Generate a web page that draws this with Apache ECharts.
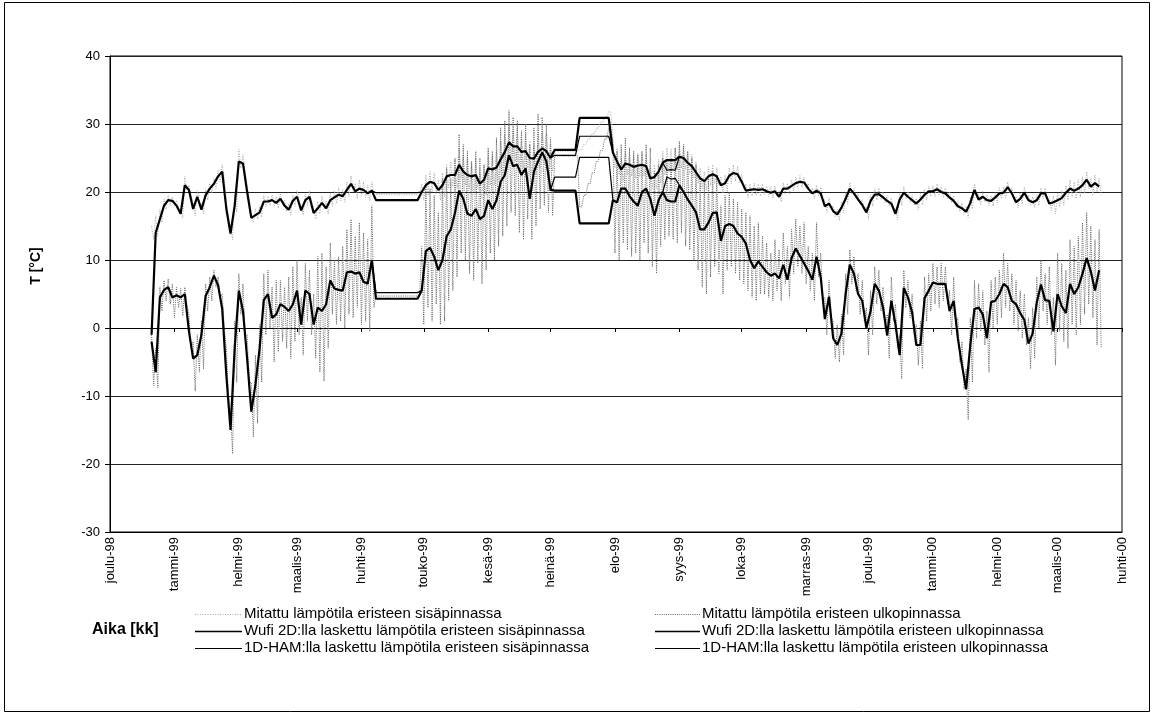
<!DOCTYPE html>
<html>
<head>
<meta charset="utf-8">
<script src="https://cdn.jsdelivr.net/npm/echarts@6/dist/echarts.min.js"></script>
<style>
html,body{margin:0;padding:0;background:#fff;}
#chart{width:1154px;height:715px;}
</style>
</head>
<body>
<div id="chart"></div>
<script>
// ---------- DATA ----------
// x axis: days after 1 Dec 1998; month starts and their labels
const monthDays = [0,31,62,90,121,151,182,212,243,274,304,335,365,396,427,456,487];
const monthLabels = ['joulu-98','tammi-99','helmi-99','maalis-99','huhti-99','touko-99','kesä-99','heinä-99','elo-99','syys-99','loka-99','marras-99','joulu-99','tammi-00','helmi-00','maalis-00','huhti-00'];
// series sampled every 2 days starting 21 Dec 1998 (day 20)
const START_DAY = 20;
const STEP = 2;

const wufiIn = [
-1,14.0,16.0,18.0,18.8,18.7,18.0,16.8,21.0,20.3,
17.5,19.3,17.4,19.5,20.5,21.2,22.3,23.0,17.5,13.9,
18.0,24.5,24.2,20.0,16.2,16.6,17.0,18.6,18.6,18.8,
18.4,19.0,18.0,17.4,18.7,19.3,17.3,18.8,19.3,16.9,
17.6,18.4,17.6,18.8,19.2,19.6,19.4,20.3,21.2,20.1,
20.5,20.3,19.8,20.2,18.8,18.8,18.8,18.8,18.8,18.8,
18.8,18.8,18.8,18.8,18.8,20.0,21.0,21.5,21.3,20.3,
21.0,22.3,22.5,22.5,24.0,23.0,22.5,22.3,22.5,21.2,
21.8,23.5,23.3,23.6,24.8,25.9,27.3,26.7,26.7,25.9,
26.0,25.0,24.9,25.9,26.4,26.0,25.0,26.2,26.2,26.2,
26.2,26.2,26.2,30.9,30.9,30.9,30.9,30.9,30.9,30.9,
30.9,25.8,24.5,23.3,24.2,24.0,23.7,23.9,24.0,23.8,
22.0,22.2,23.0,24.3,24.7,24.7,24.7,25.2,25.0,24.3,
23.8,22.9,22.0,21.6,22.3,22.6,22.3,21.0,21.3,22.4,
22.8,22.6,21.5,20.2,20.3,20.4,20.3,20.4,20.1,19.9,
20.1,19.3,20.5,20.5,20.9,21.3,21.5,21.4,20.5,19.8,
20.2,19.8,17.9,18.3,17.2,16.7,17.7,19.0,20.5,19.8,
18.9,18.1,17.0,18.7,19.6,19.7,19.2,18.7,18.3,16.8,
18.9,19.9,19.3,18.8,18.3,18.9,19.6,20.1,20.1,20.4,
20.0,19.8,19.2,18.7,17.9,17.6,17.1,18.4,20.3,18.9,
19.3,18.8,18.7,19.2,19.8,19.9,20.7,19.8,18.5,19.0,
19.9,18.8,18.5,18.8,19.8,19.8,18.3,18.5,18.8,19.1,
19.9,20.5,20.2,20.5,21.0,21.8,20.8,21.3,20.8];

const wufiOut = [
-2.0,-6.5,4.5,5.6,6.0,4.5,4.8,4.5,5.0,-0.5,
-4.5,-4.0,-1.0,4.7,6.0,7.7,6.3,2.8,-7.0,-15.0,
-3.0,5.5,2.5,-4.5,-12.3,-8.3,-3.0,4.1,5.0,1.5,
2.0,3.5,3.1,2.5,3.5,5.5,0.5,5.5,5.0,0.5,
3.0,2.5,3.5,7.0,5.8,5.6,5.5,8.2,8.3,8.0,
8.2,6.8,6.5,10.0,4.3,4.3,4.3,4.3,4.3,4.3,
4.3,4.3,4.3,4.3,4.3,5.5,11.3,11.8,10.5,8.5,
10.0,13.5,14.5,16.9,20.2,19.0,16.8,16.5,17.5,16.0,
16.5,18.8,17.5,18.8,21.5,22.5,25.4,23.8,24.0,22.5,
23.5,19.0,23.0,24.5,25.8,24.5,20.3,20.2,20.2,20.2,
20.2,20.2,20.2,15.4,15.4,15.4,15.4,15.4,15.4,15.4,
15.4,18.8,18.5,20.5,20.5,19.4,18.6,18.0,20.0,20.5,
19.0,16.5,18.8,20.0,18.8,18.6,18.6,21.0,20.0,18.9,
18.0,17.0,14.5,14.5,15.5,16.9,17.0,12.8,15.0,15.3,
15.0,13.9,13.4,12.4,10.0,8.8,9.8,9.0,8.2,7.7,
8.0,7.3,9.3,7.1,10.3,11.7,10.6,9.5,8.4,7.1,
10.5,7.5,1.3,4.6,-1.5,-2.5,-0.8,5.0,9.3,8.0,
5.0,4.0,0.0,2.5,6.5,5.5,3.0,-1.1,4.0,0.5,
-4.0,5.9,4.5,2.3,-2.5,-2.5,4.4,5.5,6.7,6.5,
6.5,6.5,2.5,4.0,-1.5,-5.5,-9.0,-2.5,2.8,3.0,
2.0,-1.5,3.8,4.0,5.0,6.5,6.0,4.0,3.5,2.2,
1.2,-2.3,-0.8,3.8,6.4,4.1,4.0,-0.5,5.0,3.2,
2.2,6.5,5.0,6.0,8.0,10.3,8.3,5.5,8.5];

// 1D-HAM results: drawn where they separate from the Wufi curves (start index, values)
const hamStart1 = 53;
const hamIn1  = [20.2,19.9,19.9,19.9,19.9,19.9,19.9,19.9,19.9,19.9,19.9,19.9,20.0];
const hamOut1 = [10.0,5.2,5.2,5.2,5.2,5.2,5.2,5.2,5.2,5.2,5.2,5.2,5.5];
const hamStart2 = 96;
const hamIn2  = [25.0,25.4,25.4,25.4,25.4,25.4,25.4,28.2,28.2,28.2,28.2,28.2,28.2,28.2,28.2,25.8];
const hamOut2 = [20.3,22.2,22.2,22.2,22.2,22.2,22.2,25.1,25.1,25.1,25.1,25.1,25.1,25.1,25.1,18.8];
const hamStart3 = 123;
const hamIn3  = [24.3,23.2,23.3,23.2,25.2];
const hamOut3 = [20.0,22.2,21.9,22.0,21.0];

// measured: daily high (first day) / low (second day) of each 2-day step
const measInHi = [
15.0,16.5,17.5,19.0,19.5,19.3,18.8,17.5,22.3,21.0,
18.5,20.2,18.3,20.5,21.3,22.0,23.2,24.0,18.5,14.8,
19.5,26.3,25.5,21.0,17.0,17.5,18.0,19.5,19.4,19.6,
19.3,19.8,18.8,18.3,19.6,20.2,18.2,19.7,20.2,17.8,
18.6,19.4,18.6,19.8,20.2,20.6,20.4,21.5,22.4,21.3,
21.8,21.5,21.0,21.5,19.6,19.6,19.6,19.6,19.6,19.6,
19.6,19.6,19.6,19.6,19.6,21.2,22.5,23.0,22.8,21.8,
22.8,24.0,24.5,24.8,26.5,25.5,25.0,24.5,25.0,23.5,
24.0,26.0,25.5,26.0,27.5,28.5,30.0,29.0,29.5,28.0,
28.5,27.5,27.0,28.5,29.0,28.5,27.0,26.0,26.0,26.0,
26.0,26.0,26.0,26.2,27.0,27.8,28.6,29.4,30.2,31.0,
31.8,28.0,26.5,25.0,26.0,25.8,25.5,25.7,25.8,25.5,
23.8,24.0,24.8,26.0,26.5,26.3,26.5,27.0,26.8,26.0,
25.5,24.5,23.5,23.0,23.7,24.0,23.6,22.3,22.5,23.6,
24.0,23.8,22.6,21.2,21.2,21.3,21.2,21.2,20.9,20.7,
20.9,20.1,21.4,21.3,21.8,22.2,22.4,22.2,21.3,20.6,
21.0,20.7,18.8,19.2,18.0,17.5,18.6,19.9,21.4,20.6,
19.7,18.9,17.8,19.6,20.5,20.6,20.0,19.5,19.1,17.6,
19.8,20.8,20.1,19.6,19.1,19.8,20.4,20.9,20.9,21.2,
20.8,20.6,20.0,19.5,18.7,18.4,17.9,19.3,21.2,19.7,
20.1,19.6,19.5,20.0,20.6,20.8,21.5,20.6,19.3,19.8,
20.7,19.6,19.3,19.6,20.6,20.6,19.2,19.4,19.8,20.2,
21.0,21.8,21.5,21.8,22.3,23.0,22.0,22.5,22.0];

const measInLo = [
13.0,13.5,15.5,17.5,18.0,18.0,17.3,16.2,20.3,19.5,
16.5,18.5,16.8,18.8,19.8,20.5,21.5,22.0,16.0,13.0,
17.0,23.5,23.0,19.0,15.5,16.0,16.3,17.8,18.0,18.0,
17.6,18.2,17.2,16.6,17.9,18.5,16.6,18.0,18.5,16.0,
16.8,17.5,16.7,17.9,18.3,18.7,18.5,19.3,20.1,19.0,
19.4,19.2,18.7,19.0,19.6,19.6,19.6,19.6,19.6,19.6,
19.6,19.6,19.6,19.6,19.6,18.8,19.5,20.0,19.8,18.8,
19.3,20.5,20.8,20.5,22.0,21.0,20.5,20.0,20.5,19.0,
19.5,21.0,21.0,21.5,22.5,23.5,25.0,24.5,24.0,23.5,
23.5,22.5,22.5,23.5,24.0,23.5,23.0,26.0,26.0,26.0,
26.0,26.0,26.0,26.2,27.0,27.8,28.6,29.4,30.2,31.0,
31.8,23.5,22.5,21.5,22.5,22.3,22.0,22.2,22.3,22.0,
20.5,20.5,21.3,22.5,23.0,23.0,23.2,23.5,23.3,22.6,
22.0,21.2,20.5,20.2,21.0,21.2,21.0,19.8,20.0,21.2,
21.6,21.4,20.4,19.2,19.4,19.5,19.4,19.6,19.3,19.1,
19.3,18.5,19.7,19.7,20.1,20.5,20.7,20.6,19.7,19.0,
19.4,19.0,17.0,17.5,16.4,15.8,16.9,18.2,19.7,19.0,
18.1,17.3,16.0,17.9,18.8,18.9,18.4,17.9,17.4,15.9,
18.0,19.0,18.5,18.0,17.4,18.1,18.8,19.3,19.3,19.6,
19.2,19.0,18.4,17.9,17.1,16.7,16.2,17.5,19.5,18.1,
18.5,18.0,17.9,18.4,19.0,19.1,19.9,19.0,17.7,18.2,
19.1,18.0,17.7,18.0,19.0,19.0,17.3,16.8,17.8,18.0,
18.8,19.3,19.0,19.2,19.8,20.5,19.6,20.0,19.5];

const measOutHi = [
-1.0,-3.0,6.0,7.0,7.2,6.5,6.0,5.8,6.0,2.0,
-2.0,-1.0,1.0,6.5,7.5,8.5,7.5,5.0,-3.0,-12.0,
1.0,8.0,6.5,-1.0,-8.0,-4.0,0.5,8.0,8.5,6.0,
7.0,7.0,6.0,7.5,9.0,10.0,4.5,9.5,8.5,5.0,
10.5,11.0,9.0,12.5,10.0,10.5,12.0,14.5,16.0,13.5,
15.5,14.0,13.0,18.0,4.7,4.7,4.7,4.7,4.7,4.7,
4.7,4.7,4.7,4.7,4.7,12.0,21.0,20.5,19.5,17.0,
22.0,23.5,22.0,25.0,28.5,27.0,26.0,24.5,26.0,25.0,
24.0,26.5,26.0,28.0,29.5,30.5,32.0,31.0,30.5,29.0,
30.0,27.0,29.5,31.5,31.0,30.0,28.0,25.3,25.3,25.3,
25.3,25.3,25.3,17.8,19.5,21.2,22.8,24.5,26.1,27.8,
29.4,27.5,26.0,27.0,28.0,26.5,26.0,25.5,26.0,27.0,
26.5,23.0,24.0,25.0,24.5,25.0,26.5,27.5,27.0,26.0,
25.0,24.0,22.0,21.5,22.0,23.0,22.5,18.0,19.5,20.0,
19.0,18.5,17.5,17.0,16.5,15.0,15.5,13.5,12.5,11.0,
13.0,11.5,14.0,12.0,14.5,16.0,15.0,15.5,12.0,11.0,
15.5,11.0,4.5,7.0,1.0,0.5,2.0,8.0,11.5,10.5,
8.0,7.0,3.0,5.5,9.0,8.5,6.0,2.0,7.5,3.5,
-1.0,8.5,7.0,5.0,0.5,1.0,7.5,8.0,9.5,9.0,
9.5,9.0,5.5,7.5,1.5,-2.0,-6.0,1.5,7.0,6.5,
5.5,2.5,7.0,7.5,8.5,11.0,9.5,8.0,7.0,5.5,
5.0,1.5,3.0,7.5,10.0,8.0,9.0,4.5,11.0,9.5,
8.5,13.0,12.0,13.5,15.5,17.0,15.0,13.0,14.5];

const measOutLo = [
-8.5,-8.8,2.5,4.0,3.5,1.5,3.0,1.8,3.5,-3.0,
-9.3,-6.5,-6.0,2.5,4.0,6.0,4.5,0.0,-10.0,-18.5,
-8.0,2.0,-1.0,-8.0,-16.0,-14.0,-8.0,-1.0,0.0,-5.0,
-3.5,-2.0,-3.0,-4.5,-2.0,-1.0,-4.0,1.0,-1.0,-4.5,
-6.5,-7.8,-3.0,2.0,0.5,1.0,0.0,2.0,1.5,3.0,
0.5,1.0,-0.5,3.0,4.7,4.7,4.7,4.7,4.7,4.7,
4.7,4.7,4.7,4.7,4.7,0.5,3.0,1.0,3.5,0.5,
1.0,4.0,5.5,7.5,11.0,10.0,8.0,7.0,9.5,6.5,
8.5,11.0,10.0,12.0,13.5,15.0,17.0,16.5,14.0,13.0,
16.0,13.0,15.0,17.5,18.0,17.0,16.5,25.3,25.3,25.3,
25.3,25.3,25.3,17.8,19.5,21.2,22.8,24.5,26.1,27.8,
29.4,11.0,10.0,12.5,11.5,10.5,11.0,10.0,12.5,11.0,
9.0,8.0,12.0,13.0,13.5,13.0,12.5,14.0,12.0,11.5,
10.0,8.5,6.0,5.0,7.5,9.0,8.0,5.0,8.5,9.0,
8.0,7.0,6.5,5.5,4.5,4.0,5.0,5.0,4.5,4.0,
5.5,4.0,6.5,4.5,8.0,9.0,8.0,6.5,5.5,4.0,
7.5,4.0,-1.0,1.5,-4.5,-5.0,-4.0,2.0,6.5,5.5,
2.0,1.0,-4.0,-1.0,3.5,2.5,0.0,-4.5,1.0,-3.0,
-7.5,3.0,1.5,-1.0,-5.5,-6.0,1.0,2.5,3.5,3.0,
4.0,3.5,-1.0,0.5,-5.0,-9.0,-13.5,-8.0,-1.5,-0.5,
-2.5,-6.5,0.0,0.5,1.5,3.0,2.5,0.5,-0.5,-1.5,
-2.5,-6.0,-4.5,0.0,2.5,0.5,-1.0,-5.5,-0.5,-2.0,
-3.0,0.5,-1.0,0.5,2.0,3.5,1.5,-2.5,-3.0];

const seriesNames = {
  measIn:  'Mitattu lämpötila eristeen sisäpinnassa',
  wufiIn:  'Wufi 2D:lla laskettu lämpötila eristeen sisäpinnassa',
  hamIn:   '1D-HAM:lla laskettu lämpötila eristeen sisäpinnassa',
  measOut: 'Mitattu lämpötila eristeen ulkopinnassa',
  wufiOut: 'Wufi 2D:lla laskettu lämpötila eristeen ulkopinnassa',
  hamOut:  '1D-HAM:lla laskettu lämpötila eristeen ulkopinnassa'
};

// ---------- STYLES ----------
const FONT = "'Liberation Sans', Arial, sans-serif";
const styles = {
  measIn:  { color: '#a8a8a8', width: 1,   dash: [1, 1.5] },
  measOut: { color: '#666666', width: 1,   dash: [1, 1.2] },
  hamIn:   { color: '#000',    width: 1.2, dash: null },
  hamOut:  { color: '#000',    width: 1.2, dash: null },
  wufiIn:  { color: '#000',    width: 2.2, dash: null },
  wufiOut: { color: '#000',    width: 2.2, dash: null }
};

// ---------- BUILD ----------
function toPairs(vals, startIdx) {
  return vals.map((v, k) => [START_DAY + STEP * (startIdx + k), v]);
}
function zigzag(hi, lo) {
  const out = [];
  hi.forEach((h, i) => {
    out.push([START_DAY + STEP * i, h]);
    out.push([START_DAY + STEP * i + 1, lo[i]]);
  });
  return out;
}
function segments(list) {
  const out = [];
  list.forEach((s, n) => {
    if (n > 0) out.push([START_DAY + STEP * s[0] - 1, '-']);
    toPairs(s[1], s[0]).forEach(p => out.push(p));
  });
  return out;
}
function lineSeries(key, data, z) {
  const st = styles[key];
  return {
    name: seriesNames[key], type: 'line', data: data, xAxisIndex: 0, yAxisIndex: 0,
    symbol: 'none', showSymbol: false, connectNulls: false, z: z,
    lineStyle: { color: st.color, width: st.width, type: st.dash || 'solid' },
    itemStyle: { color: st.color },
    emphasis: { disabled: true }, silent: true
  };
}

// legend drawn as graphic (line sample + real text)
const legendCols = [
  { lineX: 195, lineW: 47, keys: ['measIn', 'wufiIn', 'hamIn'] },
  { lineX: 655, lineW: 45, keys: ['measOut', 'wufiOut', 'hamOut'] }
];
const legendRowsY = [614, 631, 648];
const legendGraphics = [];
legendCols.forEach(col => {
  col.keys.forEach((k, r) => {
    const st = styles[k];
    const y = legendRowsY[r] + 0.5;
    legendGraphics.push({ type: 'line', silent: true,
      shape: { x1: col.lineX, y1: y, x2: col.lineX + col.lineW, y2: y },
      style: { stroke: st.color, lineWidth: Math.min(st.width, 1.6), lineDash: st.dash || null } });
    legendGraphics.push({ type: 'text', silent: true, x: col.lineX + col.lineW + 2, y: legendRowsY[r],
      style: { text: seriesNames[k], font: "15px 'Liberation Sans', Arial, sans-serif", fill: '#000',
               align: 'left', verticalAlign: 'middle', textAlign: 'left', textVerticalAlign: 'middle' } });
  });
});

const chart = echarts.init(document.getElementById('chart'), null, { renderer: 'canvas' });
const option = {
  animation: false,
  backgroundColor: '#ffffff',
  textStyle: { fontFamily: FONT },
  grid: { left: 110, right: 32, top: 56, bottom: 183, show: true, borderColor: '#000', borderWidth: 1, containLabel: false },
  xAxis: [
    {
      type: 'value', min: 0, max: 487, position: 'bottom',
      axisLine: { show: true, onZero: false, lineStyle: { color: '#000', width: 1 } },
      axisTick: { show: false },
      splitLine: { show: false },
      axisLabel: {
        customValues: monthDays, rotate: 90, margin: 5, fontSize: 13, color: '#000', fontFamily: FONT,
        formatter: v => monthLabels[monthDays.indexOf(v)] || ''
      }
    },
    {
      type: 'value', min: 0, max: 487, position: 'bottom',
      axisLine: { show: true, onZero: true, lineStyle: { color: '#000', width: 1 } },
      axisTick: { show: true, customValues: monthDays, length: 4, lineStyle: { color: '#000' } },
      axisLabel: { show: false },
      splitLine: { show: false }
    }
  ],
  yAxis: {
    type: 'value', min: -30, max: 40, interval: 10,
    axisLine: { show: true, lineStyle: { color: '#000', width: 1 } },
    axisTick: { show: true, length: 5, lineStyle: { color: '#000' } },
    axisLabel: { fontSize: 13, color: '#000', margin: 10, fontFamily: FONT },
    splitLine: { show: true, lineStyle: { color: '#222', width: 1 } }
  },
  graphic: [
    { type: 'rect', silent: true, shape: { x: 4.5, y: 2.5, width: 1145, height: 709 },
      style: { fill: 'none', stroke: '#000', lineWidth: 1 } },
    { type: 'text', silent: true, x: 36, y: 266, rotation: Math.PI / 2,
      style: { text: 'T [°C]', font: "bold 14px 'Liberation Sans', Arial, sans-serif", fill: '#000',
               align: 'center', verticalAlign: 'middle', textAlign: 'center', textVerticalAlign: 'middle' } },
    { type: 'text', silent: true, x: 92, y: 630,
      style: { text: 'Aika [kk]', font: "bold 16px 'Liberation Sans', Arial, sans-serif", fill: '#000',
               align: 'left', verticalAlign: 'middle', textAlign: 'left', textVerticalAlign: 'middle' } }
  ].concat(legendGraphics),
  series: [
    lineSeries('measIn', zigzag(measInHi, measInLo), 2),
    lineSeries('measOut', zigzag(measOutHi, measOutLo), 3),
    lineSeries('hamIn', segments([[hamStart1, hamIn1], [hamStart2, hamIn2], [hamStart3, hamIn3]]), 4),
    lineSeries('hamOut', segments([[hamStart1, hamOut1], [hamStart2, hamOut2], [hamStart3, hamOut3]]), 4),
    lineSeries('wufiIn', toPairs(wufiIn, 0), 5),
    lineSeries('wufiOut', toPairs(wufiOut, 0), 5)
  ]
};
chart.setOption(option);
</script>
</body>
</html>
